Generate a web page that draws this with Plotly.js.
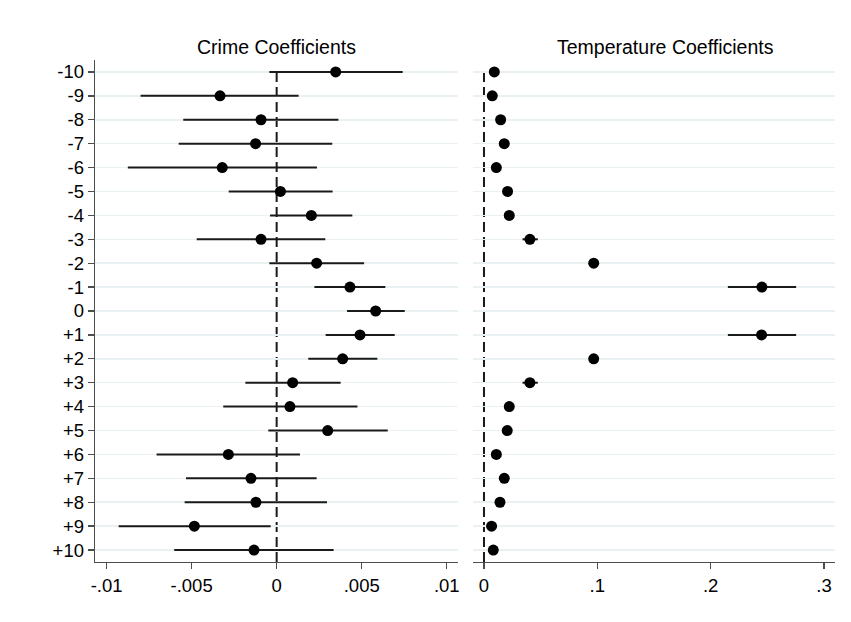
<!DOCTYPE html>
<html>
<head>
<meta charset="utf-8">
<script src="https://cdn.plot.ly/plotly-3.0.1.min.js"></script>
<style>html,body{margin:0;padding:0;background:#fff;}#chart{width:851px;height:622px;}</style>
</head>
<body>
<div id="chart"></div>
<script>
// Event-time leads/lags
const periods = [-10,-9,-8,-7,-6,-5,-4,-3,-2,-1,0,1,2,3,4,5,6,7,8,9,10];
const periodLabels = ["-10","-9","-8","-7","-6","-5","-4","-3","-2","-1","0","+1","+2","+3","+4","+5","+6","+7","+8","+9","+10"];

// Crime coefficients with 95% CI bounds
const crimeCoef = [0.00347,-0.00333,-0.00092,-0.00124,-0.00320,0.00022,0.00204,-0.00092,0.00235,0.00431,0.00582,
                   0.00490,0.00388,0.00094,0.00078,0.00300,-0.00284,-0.00151,-0.00122,-0.00484,-0.00133];
const crimeLow  = [-0.00043,-0.00800,-0.00549,-0.00576,-0.00875,-0.00282,-0.00039,-0.00470,-0.00043,0.00222,0.00414,
                   0.00288,0.00186,-0.00184,-0.00314,-0.00049,-0.00706,-0.00533,-0.00541,-0.00929,-0.00602];
const crimeHigh = [0.00741,0.00129,0.00363,0.00327,0.00237,0.00329,0.00445,0.00286,0.00514,0.00639,0.00753,
                   0.00694,0.00592,0.00376,0.00475,0.00653,0.00137,0.00235,0.00296,-0.00035,0.00335];

// Temperature coefficients with 95% CI bounds (no estimate at period 0)
const tempCoef = [0.0091,0.0073,0.0147,0.0179,0.0109,0.0208,0.0223,0.0405,0.0968,0.2452,null,
                  0.2449,0.0968,0.0405,0.0223,0.0205,0.0109,0.0179,0.0141,0.0067,0.0082];
const tempLow  = [0.0081,0.0063,0.0137,0.0169,0.0099,0.0198,0.0203,0.0340,0.0948,0.2152,null,
                  0.2152,0.0948,0.0340,0.0203,0.0195,0.0099,0.0169,0.0131,0.0057,0.0072];
const tempHigh = [0.0101,0.0083,0.0157,0.0189,0.0119,0.0218,0.0243,0.0475,0.0988,0.2754,null,
                  0.2754,0.0988,0.0475,0.0243,0.0215,0.0119,0.0189,0.0151,0.0077,0.0092];

const crimeTicks = [-0.01,-0.005,0,0.005,0.01];
const crimeTickText = ["-.01","-.005","0",".005",".01"];
const tempTicks = [0,0.1,0.2,0.3];
const tempTickText = ["0",".1",".2",".3"];

const plus = (hi, c) => hi.map((h,i) => c[i]===null ? null : h - c[i]);
const minus = (lo, c) => lo.map((l,i) => c[i]===null ? null : c[i] - l);

const FONT = "Liberation Sans, Arial, sans-serif";
const markerStyle = {color:'#000', size:11, symbol:'circle'};
const errStyle = {type:'data', symmetric:false, width:0, thickness:2, color:'#1a1a1a'};

const traces = [
  {
    type:'scatter', mode:'markers', x: crimeCoef, y: periods, xaxis:'x', yaxis:'y',
    marker: markerStyle,
    error_x: Object.assign({}, errStyle, {array: plus(crimeHigh, crimeCoef), arrayminus: minus(crimeLow, crimeCoef)}),
    hoverinfo:'x+y'
  },
  {
    type:'scatter', mode:'markers', x: tempCoef, y: periods, xaxis:'x2', yaxis:'y2',
    marker: markerStyle,
    error_x: Object.assign({}, errStyle, {array: plus(tempHigh, tempCoef), arrayminus: minus(tempLow, tempCoef)}),
    hoverinfo:'x+y'
  }
];

const gridColor = '#e9f1f2';
const axisLine = '#4d4d4d';
const TICK = 18.5;

const layout = {
  width:851, height:622,
  margin:{l:95, r:16, t:60, b:60},
  paper_bgcolor:'#fff', plot_bgcolor:'#fff',
  showlegend:false,
  font:{family:FONT, size:TICK, color:'#000'},
  xaxis:{
    domain:[0, 0.4905], range:[-0.01068, 0.01066],
    tickvals: crimeTicks, ticktext: crimeTickText,
    ticks:'outside', ticklen:6, tickwidth:1.3, tickcolor:axisLine,
    showline:true, linecolor:axisLine, linewidth:1.3,
    showgrid:false, zeroline:false,
    tickfont:{family:FONT, size:TICK, color:'#000'}
  },
  yaxis:{
    domain:[0,1], range:[10.5,-10.5],
    tickvals: periods, ticktext: periodLabels,
    ticks:'outside', ticklen:6, tickwidth:1.3, tickcolor:axisLine,
    showline:true, linecolor:axisLine, linewidth:1.3,
    showgrid:true, gridcolor:gridColor, gridwidth:1.5, zeroline:false,
    tickfont:{family:FONT, size:TICK, color:'#000'}
  },
  xaxis2:{
    domain:[0.5108, 1], range:[-0.0097, 0.3097], anchor:'y2',
    tickvals: tempTicks, ticktext: tempTickText,
    ticks:'outside', ticklen:6, tickwidth:1.3, tickcolor:axisLine,
    showline:true, linecolor:axisLine, linewidth:1.3,
    showgrid:false, zeroline:false,
    tickfont:{family:FONT, size:TICK, color:'#000'}
  },
  yaxis2:{
    domain:[0,1], range:[10.5,-10.5], anchor:'x2',
    tickvals: periods, showticklabels:false, ticks:'',
    showline:false, showgrid:true, gridcolor:gridColor, gridwidth:1.5, zeroline:false
  },
  shapes:[
    {type:'line', xref:'x', yref:'y domain', x0:0, x1:0, y0:0, y1:0.985, layer:'below',
     line:{color:'#1a1a1a', width:2, dash:'10px,5px'}},
    {type:'line', xref:'x2', yref:'y2 domain', x0:0, x1:0, y0:0, y1:0.985, layer:'below',
     line:{color:'#1a1a1a', width:2, dash:'10px,5px'}}
  ],
  annotations:[
    {text:'Crime Coefficients', xref:'x domain', yref:'paper', x:0.5, y:1, yanchor:'bottom', xanchor:'center',
     yshift:0, showarrow:false, font:{family:FONT, size:19.5, color:'#000'}},
    {text:'Temperature Coefficients', xref:'x2 domain', yref:'paper', x:0.5, y:1, yanchor:'bottom', xanchor:'center',
     xshift:12, yshift:0, showarrow:false, font:{family:FONT, size:19.5, color:'#000'}}
  ]
};

Plotly.newPlot('chart', traces, layout, {displayModeBar:false, staticPlot:true});
</script>
</body>
</html>
